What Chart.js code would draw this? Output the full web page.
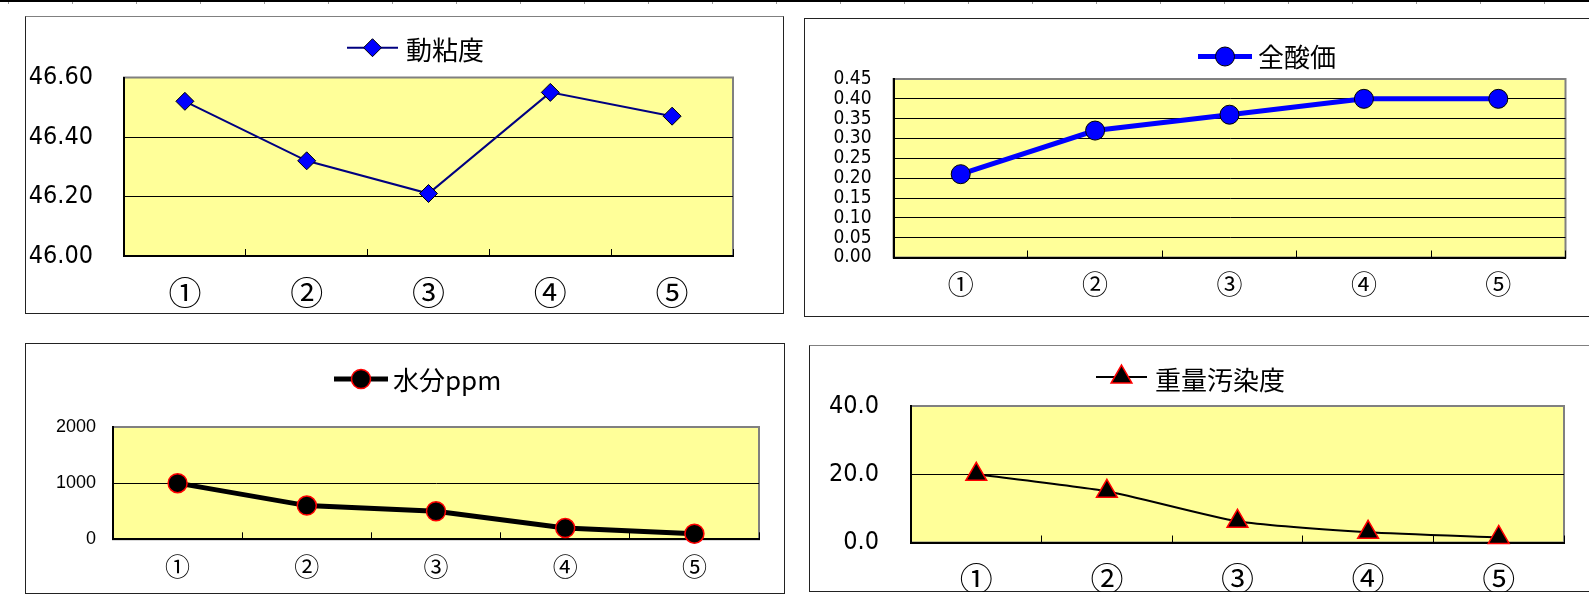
<!DOCTYPE html>
<html>
<head>
<meta charset="utf-8">
<script src="https://cdn.jsdelivr.net/npm/chart.js@4.4.1/dist/chart.umd.min.js"></script>
<style>
html,body{margin:0;padding:0;background:#fff;}
body{width:1589px;height:597px;overflow:hidden;position:relative;}
.ruler{position:absolute;left:0;top:0;width:1589px;height:2px;background:#000;}
.rticks{position:absolute;left:0;top:2px;width:1589px;height:2px;
  background:repeating-linear-gradient(to right,#9a9a9a 0 1px,transparent 1px 64px);background-position:8px 0;}
.panel{position:absolute;box-sizing:border-box;border:1px solid #222;background:#fff;}
canvas{position:absolute;}
</style>
</head>
<body>
<div class="ruler"></div><div class="rticks"></div>
<div class="panel" style="left:25px;top:16px;width:759px;height:298px;border-top-color:#808080;"></div>
<div class="panel" style="left:804px;top:18px;width:800px;height:299px;"></div>
<div class="panel" style="left:25px;top:343px;width:760px;height:251px;"></div>
<div class="panel" style="left:809px;top:345px;width:800px;height:247px;border-top-color:#808080;"></div>
<canvas id="c1" width="759" height="299" style="left:25px;top:16px;width:759px;height:299px;"></canvas>
<canvas id="c2" width="785" height="298" style="left:804px;top:18px;width:785px;height:298px;"></canvas>
<canvas id="c3" width="760" height="251" style="left:25px;top:343px;width:760px;height:251px;"></canvas>
<canvas id="c4" width="780" height="247" style="left:809px;top:345px;width:780px;height:247px;"></canvas>
<script>
// ---- data ----
const categories = ['①','②','③','④','⑤'];
const viscosity = [46.52, 46.32, 46.21, 46.55, 46.47];
const acidNumber = [0.21, 0.32, 0.36, 0.40, 0.40];
const waterPpm = [1000, 600, 500, 200, 100];
const contamination = [20.0, 15.0, 6.2, 3.0, 1.5];
const seriesNames = ['動粘度', '全酸価', '水分ppm', '重量汚染度'];
const viscosityTicks = [46.00, 46.20, 46.40, 46.60];
const acidTicks = [0.00, 0.05, 0.10, 0.15, 0.20, 0.25, 0.30, 0.35, 0.40, 0.45];
const waterTicks = [0, 1000, 2000];
const contaminationTicks = [0.0, 20.0, 40.0];

const COND = "'DejaVu Sans Condensed', 'DejaVu Sans', sans-serif";
const CJK = "'Noto Sans CJK JP', 'Noto Sans', sans-serif";
const ARIAL = "'Liberation Sans', Arial, sans-serif";

function drawMarker(ctx, style, x, y, r, fill, stroke, bw) {
  ctx.beginPath();
  if (style === 'rectRot') {
    ctx.moveTo(x, y - r); ctx.lineTo(x + r, y); ctx.lineTo(x, y + r); ctx.lineTo(x - r, y);
  } else if (style === 'triangle') {
    ctx.moveTo(x, y - r);
    ctx.lineTo(x + r * Math.sin(2 * Math.PI / 3), y - r * Math.cos(2 * Math.PI / 3));
    ctx.lineTo(x + r * Math.sin(4 * Math.PI / 3), y - r * Math.cos(4 * Math.PI / 3));
  } else {
    ctx.arc(x, y, r, 0, Math.PI * 2);
  }
  ctx.closePath();
  ctx.fillStyle = fill; ctx.fill();
  ctx.strokeStyle = stroke; ctx.lineWidth = bw; ctx.stroke();
}

const plotBg = {
  id: 'plotBg',
  beforeDraw(chart) {
    const {ctx, chartArea: a} = chart;
    ctx.save();
    ctx.fillStyle = '#FFFF99';
    ctx.fillRect(a.left, a.top, a.right - a.left, a.bottom - a.top);
    ctx.strokeStyle = '#808080'; ctx.lineWidth = 2;
    ctx.strokeRect(a.left, a.top, a.right - a.left, a.bottom - a.top);
    ctx.restore();
  }
};

const legendSample = {
  id: 'legendSample',
  afterDraw(chart, args, o) {
    const ctx = chart.ctx;
    const ds = chart.data.datasets[0];
    const ox = o.canvasLeft, oy = o.canvasTop;
    const y = o.y - oy;
    ctx.save();
    ctx.strokeStyle = ds.borderColor; ctx.lineWidth = ds.borderWidth; ctx.lineCap = 'butt';
    ctx.beginPath(); ctx.moveTo(o.x1 - ox, y); ctx.lineTo(o.x2 - ox, y); ctx.stroke();
    drawMarker(ctx, ds.pointStyle, (o.x1 + o.x2) / 2 - ox, y, ds.pointRadius,
      ds.pointBackgroundColor, ds.pointBorderColor, ds.pointBorderWidth);
    ctx.fillStyle = '#000'; ctx.font = o.font; ctx.textBaseline = 'middle'; ctx.textAlign = 'left';
    ctx.fillText(ds.label, o.tx - ox, o.ty - oy);
    ctx.restore();
  }
};

function makeChart(id, p) {
  new Chart(document.getElementById(id), {
    type: 'line',
    data: {
      labels: categories,
      datasets: [{
        label: p.label,
        data: p.data,
        borderColor: p.lineColor,
        borderWidth: p.lineWidth,
        tension: p.tension || 0,
        pointStyle: p.pointStyle,
        pointRadius: p.pointRadius,
        pointHoverRadius: p.pointRadius,
        pointBackgroundColor: p.pointFill,
        pointBorderColor: p.pointStroke,
        pointBorderWidth: p.pointBorderWidth,
        clip: false,
        fill: false
      }]
    },
    options: {
      responsive: false,
      animation: false,
      devicePixelRatio: 1,
      layout: {padding: {left: 0, right: p.padR, top: p.padT, bottom: 0}},
      plugins: {
        legend: {display: false},
        tooltip: {enabled: false},
        legendSample: p.legend
      },
      scales: {
        x: {
          type: 'category',
          offset: true,
          grid: {display: true, drawOnChartArea: false, drawTicks: true, tickLength: -7, offset: true, color: '#000', lineWidth: 1},
          border: {display: true, color: '#000', width: 2},
          ticks: {font: {family: CJK, size: p.xFont}, color: '#000', padding: p.xPad, maxRotation: 0, autoSkip: false},
          afterFit(s) { s.height = p.xH; }
        },
        y: {
          min: p.yTicks[0],
          max: p.yTicks[p.yTicks.length - 1],
          afterBuildTicks(s) { s.ticks = p.yTicks.map(v => ({value: v})); },
          grid: {
            color: c => (c.tick && Math.abs(c.tick.value - p.yTicks[p.yTicks.length - 1]) < 1e-9) ? 'rgba(0,0,0,0)' : '#000',
            lineWidth: 1, drawTicks: false
          },
          border: {display: true, color: '#000', width: 2},
          ticks: {font: {family: p.yFamily, size: p.yFont}, color: '#000', padding: p.yPad, autoSkip: false,
            callback: v => Number(v).toFixed(p.yDec)},
          afterFit(s) { s.width = p.yW; }
        }
      }
    },
    plugins: [plotBg, legendSample]
  });
}

makeChart('c1', {
  label: seriesNames[0], data: viscosity, lineColor: '#000080', lineWidth: 2,
  pointStyle: 'rectRot', pointRadius: 9, pointFill: '#0000FF', pointStroke: '#000000', pointBorderWidth: 1,
  yTicks: viscosityTicks, yDec: 2, yFamily: COND, yFont: 25, yPad: 31, yW: 99,
  xFont: 33, xPad: 24, xH: 59, padR: 51, padT: 61.5,
  legend: {canvasLeft: 25, canvasTop: 16, x1: 347, x2: 398, y: 47.7, tx: 406, ty: 50.5, font: '26px ' + CJK}
});

makeChart('c2', {
  label: seriesNames[1], data: acidNumber, lineColor: '#0000FF', lineWidth: 5,
  pointStyle: 'circle', pointRadius: 9.5, pointFill: '#0000FF', pointStroke: '#000000', pointBorderWidth: 1,
  yTicks: acidTicks, yDec: 2, yFamily: COND, yFont: 19, yPad: 22, yW: 89.5,
  xFont: 26, xPad: 18, xH: 58.5, padR: 23.5, padT: 61,
  legend: {canvasLeft: 804, canvasTop: 18, x1: 1198, x2: 1252, y: 56.5, tx: 1258, ty: 57.5, font: '26px ' + CJK}
});

makeChart('c3', {
  label: seriesNames[2], data: waterPpm, lineColor: '#000000', lineWidth: 5,
  pointStyle: 'circle', pointRadius: 9.5, pointFill: '#000000', pointStroke: '#FF0000', pointBorderWidth: 1.5,
  yTicks: waterTicks, yDec: 0, yFamily: ARIAL, yFont: 18, yPad: 17, yW: 88,
  xFont: 25, xPad: 19, xH: 54.7, padR: 26, padT: 84,
  legend: {canvasLeft: 25, canvasTop: 343, x1: 334, x2: 388, y: 379, tx: 393, ty: 380, font: '26px ' + CJK}
});

makeChart('c4', {
  label: seriesNames[3], data: contamination, lineColor: '#000000', lineWidth: 2, tension: 0.2,
  pointStyle: 'triangle', pointRadius: 12, pointFill: '#000000', pointStroke: '#FF0000', pointBorderWidth: 1.5,
  yTicks: contaminationTicks, yDec: 1, yFamily: COND, yFont: 25, yPad: 32, yW: 102,
  xFont: 33, xPad: 23, xH: 49.5, padR: 25, padT: 61,
  legend: {canvasLeft: 809, canvasTop: 345, x1: 1096, x2: 1147, y: 377, tx: 1155, ty: 380.5, font: '26px ' + CJK}
});
</script>
</body>
</html>
